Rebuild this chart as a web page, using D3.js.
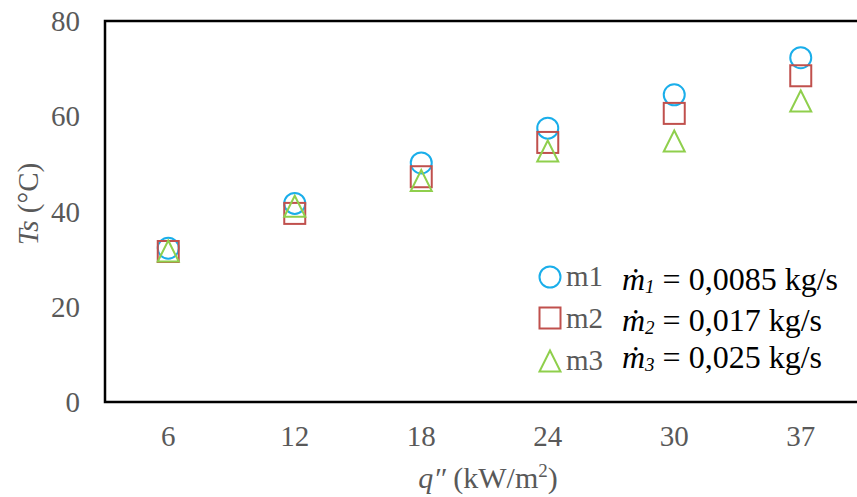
<!DOCTYPE html>
<html>
<head>
<meta charset="utf-8">
<script src="https://cdn.jsdelivr.net/npm/d3@7"></script>
<style>
  body { margin: 0; background: #fff; }
  svg { display: block; font-family: "Liberation Serif", "Times New Roman", serif; }
</style>
</head>
<body>
<svg id="chart" width="857" height="497"></svg>
<script>
// heat flux categories (kW/m2)
const categories = ["6", "12", "18", "24", "30", "37"];
// surface temperature (°C) per mass flow rate
const m1 = [32.3, 41.7, 50.2, 57.5, 64.5, 72.3];
const m2 = [31.6, 39.6, 47.3, 54.5, 60.6, 68.5];
const m3 = [31.7, 41.1, 46.5, 52.7, 54.8, 63.2];
const yTicks = [0, 20, 40, 60, 80];
const seriesNames = ["m1", "m2", "m3"];
const flowLabels = ["0,0085 kg/s", "0,017 kg/s", "0,025 kg/s"];

const svg = d3.select('#chart');
const plotLeft = 105, plotTop = 21, plotBottom = 402, plotRight = 864;

const x = d3.scaleBand().domain(categories).range([plotLeft, plotRight]);
const y = d3.scaleLinear().domain([0, 80]).range([plotBottom, plotTop]);

const series = [
    { name: "m1", values: m1, shape: "circle", color: "#1AAEEA" },
    { name: "m2", values: m2, shape: "square", color: "#C0504D" },
    { name: "m3", values: m3, shape: "triangle", color: "#8FCF4C" }
];

function drawMarker(g, shape, cx, cy, color) {
    if (shape === "circle") {
        g.append('circle').attr('cx', cx).attr('cy', cy).attr('r', 10.5)
            .attr('fill', 'none').attr('stroke', color).attr('stroke-width', 2);
    } else if (shape === "square") {
        g.append('rect').attr('x', cx - 10.5).attr('y', cy - 10.5)
            .attr('width', 21).attr('height', 21)
            .attr('fill', 'none').attr('stroke', color).attr('stroke-width', 2);
    } else {
        const h = 10.5;
        g.append('path')
            .attr('d', `M${cx},${cy - h} L${cx + h},${cy + h} L${cx - h},${cy + h} Z`)
            .attr('fill', 'none').attr('stroke', color).attr('stroke-width', 2)
            .attr('stroke-linejoin', 'miter');
    }
}

// frame: top, left and bottom
svg.append('path')
    .attr('d', `M${plotRight},${plotTop} L${plotLeft},${plotTop} L${plotLeft},${plotBottom} L${plotRight},${plotBottom}`)
    .attr('fill', 'none').attr('stroke', '#000').attr('stroke-width', 2.5);

// y tick labels
svg.selectAll('.ytick').data(yTicks).enter().append('text')
    .attr('class', 'ytick')
    .attr('x', 80).attr('y', d => y(d) + 10)
    .attr('text-anchor', 'end')
    .attr('font-size', 29).attr('fill', '#595959')
    .text(d => d);

// x tick labels
svg.selectAll('.xtick').data(categories).enter().append('text')
    .attr('class', 'xtick')
    .attr('x', d => x(d) + x.bandwidth() / 2).attr('y', 446)
    .attr('text-anchor', 'middle')
    .attr('font-size', 29).attr('fill', '#595959')
    .text(d => d);

// axis titles
const xt = svg.append('text').attr('x', 488).attr('y', 488)
    .attr('text-anchor', 'middle').attr('font-size', 30).attr('fill', '#595959');
xt.append('tspan').attr('font-style', 'italic').text('q″');
xt.append('tspan').text(' (kW/m');
xt.append('tspan').attr('font-size', 19).attr('dy', -11).text('2');
xt.append('tspan').attr('dy', 11).text(')');

const yt = svg.append('text').attr('transform', 'translate(38,204) rotate(-90)')
    .attr('text-anchor', 'middle').attr('font-size', 29).attr('fill', '#595959');
yt.append('tspan').attr('font-style', 'italic').text('Ts');
yt.append('tspan').text(' (°C)');

// data markers
series.forEach(s => {
    const g = svg.append('g').attr('class', 'series-' + s.name);
    s.values.forEach((v, i) => {
        drawMarker(g, s.shape, x(categories[i]) + x.bandwidth() / 2, y(v), s.color);
    });
});

// legend
const legendY = [277, 318, 361];
const legendBase = [286, 328, 370];
const noteBase = [290, 331, 368];
series.forEach((s, i) => {
    const g = svg.append('g').attr('class', 'legend');
    drawMarker(g, s.shape, 550, legendY[i], s.color);
    g.append('text').attr('x', 566).attr('y', legendBase[i])
        .attr('font-size', 29).attr('fill', '#595959').text(seriesNames[i]);
    const t = g.append('text').attr('x', 622).attr('y', noteBase[i])
        .attr('font-size', 32).attr('fill', '#000');
    t.append('tspan').attr('font-style', 'italic').text('ṁ');
    t.append('tspan').attr('font-style', 'italic').attr('font-size', 19).attr('dy', 3).text(i + 1);
    t.append('tspan').attr('dy', -3).text(' = ' + flowLabels[i]);
});
</script>
</body>
</html>
